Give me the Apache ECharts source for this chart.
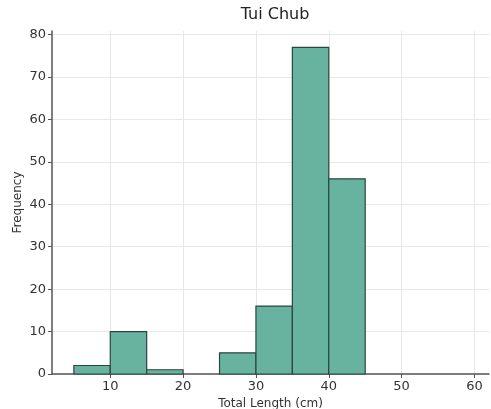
<!DOCTYPE html>
<html>
<head>
<meta charset="utf-8">
<script src="https://cdn.jsdelivr.net/npm/echarts@6/dist/echarts.min.js"></script>
<style>
  html, body { margin: 0; padding: 0; background: #fff; }
  #chart { width: 491px; height: 409px; }
</style>
</head>
<body>
<div id="chart"></div>
<script>
// histogram bins (cm) and counts
var binStart = [5, 10, 15, 20, 25, 30, 35, 40];
var binEnd = [10, 15, 20, 25, 30, 35, 40, 45];
var counts = [2, 10, 1, 0, 5, 16, 77, 46];
var xTicks = [10, 20, 30, 40, 50, 60];
var yTicks = [0, 10, 20, 30, 40, 50, 60, 70, 80];

var data = binStart.map(function (s, i) { return [s, binEnd[i], counts[i]]; });

var chart = echarts.init(document.getElementById("chart"));
var txt = "#333333";
chart.setOption({
  animation: false,
  title: {
    text: "Tui Chub",
    left: 270, textAlign: "center", top: 2,
    textStyle: { fontFamily: "DejaVu Sans", fontSize: 16, fontWeight: "normal", color: "#222" }
  },
  grid: { left: 52, right: 2, top: 31, bottom: 35, outerBoundsMode: "none", containLabel: false },
  xAxis: {
    type: "value", min: 2, max: 62,
    name: "Total Length (cm)", nameLocation: "middle", nameGap: 23,
    nameTextStyle: { fontFamily: "DejaVu Sans", fontSize: 12, color: txt },
    axisLine: { lineStyle: { color: "#555", width: 1.5 } },
    axisTick: { customValues: xTicks, length: 4, lineStyle: { color: "#555" } },
    axisLabel: { customValues: xTicks, fontFamily: "DejaVu Sans", fontSize: 13, color: txt, margin: 6 },
    splitLine: { show: true, lineStyle: { color: "#e8e8e8" } }
  },
  yAxis: {
    type: "value", min: 0, max: 80.85,
    name: "Frequency", nameLocation: "middle", nameGap: 28, nameRotate: 90,
    nameMoveOverlap: false,
    nameTextStyle: { fontFamily: "DejaVu Sans", fontSize: 12, color: txt },
    axisLine: { show: true, lineStyle: { color: "#555", width: 1.5 } },
    axisTick: { show: true, customValues: yTicks, length: 4, lineStyle: { color: "#555" } },
    axisLabel: { customValues: yTicks, fontFamily: "DejaVu Sans", fontSize: 13, color: txt, margin: 6 },
    splitLine: { show: true, lineStyle: { color: "#e8e8e8" } }
  },
  series: [{
    type: "custom",
    data: data,
    encode: { x: [0, 1], y: 2 },
    renderItem: function (params, api) {
      if (!api.value(2)) return null;
      var p0 = api.coord([api.value(0), api.value(2)]);
      var p1 = api.coord([api.value(1), 0]);
      return {
        type: "rect",
        shape: { x: p0[0], y: p0[1], width: p1[0] - p0[0], height: p1[1] - p0[1] },
        style: { fill: "#67b39f", stroke: "#2c4540", lineWidth: 1.2 }
      };
    }
  }]
});
</script>
</body>
</html>
